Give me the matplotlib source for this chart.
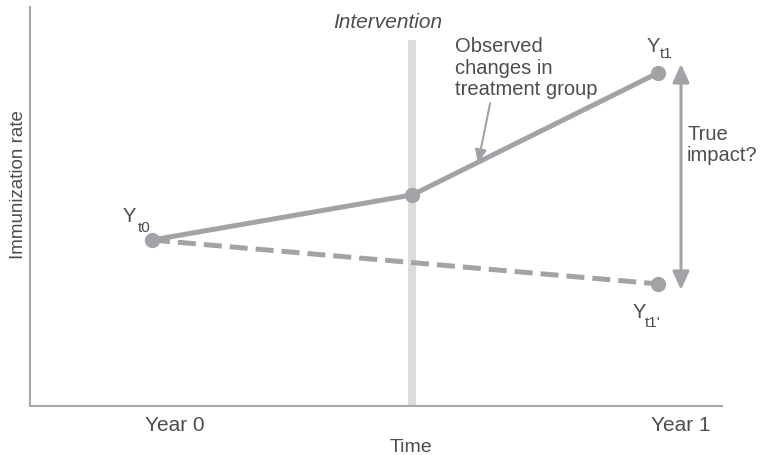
import matplotlib
matplotlib.use("Agg")
import matplotlib.pyplot as plt
from matplotlib.transforms import ScaledTranslation

plt.rcParams['font.family'] = ['Liberation Sans', 'DejaVu Sans']

# ---- data ----
x_tick_labels = ["Year 0", "Year 1"]
x_ticks = [0, 1]
treat_x = [0, 0.514, 1]
treat_y = [0.416, 0.529, 0.835]
counter_x = [0, 1]
counter_y = [0.416, 0.306]
intervention_x = 0.514
intervention_top = 0.917
impact_x = 1.045
impact_top = 0.857
impact_bottom = 0.291

LINE = '#a3a3a7'
TEXT = '#4d4d4d'
BAND = '#dcdcdc'
SPINE = '#a8a8a8'
FS = 14.5

fig = plt.figure(figsize=(7.64, 4.55), dpi=100)
ax = fig.add_axes([30/764, 49/455, (722-30)/764, 399/455])
ax.set_xlim(-0.241, 1.126)
ax.set_ylim(0, 1)

for s in ['top', 'right']:
    ax.spines[s].set_visible(False)
for s in ['left', 'bottom']:
    ax.spines[s].set_color(SPINE)
    ax.spines[s].set_linewidth(1.5)

# intervention band
ax.plot([intervention_x, intervention_x], [0, intervention_top], color=BAND,
        lw=5.8, solid_capstyle='butt', zorder=1)
ax.text(0.466, 0.947, "Intervention", style='italic',
        fontsize=15, color=TEXT, ha='center', va='baseline')

# lines
ax.plot(counter_x, counter_y, color=LINE, lw=3.6, dashes=(3.6, 1.6),
        zorder=2)
ax.plot(treat_x, treat_y, color=LINE, lw=3.6, zorder=3)
ax.plot([treat_x[0], treat_x[1], treat_x[2], counter_x[1]],
        [treat_y[0], treat_y[1], treat_y[2], counter_y[1]],
        'o', color=LINE, ms=10, zorder=4)


def ylabel_at(xy, main_off, sub, sub_off):
    ax.annotate("Y", xy=xy, xytext=main_off, textcoords='offset pixels',
                ha='left', va='baseline', fontsize=14.5, color=TEXT)
    ax.annotate(sub, xy=xy, xytext=sub_off, textcoords='offset pixels',
                ha='left', va='baseline', fontsize=11, color=TEXT)


ylabel_at((treat_x[0], treat_y[0]), (-29, 18), "t0", (-14, 8))
ylabel_at((treat_x[2], treat_y[2]), (-12, 21), "t1", (2, 15))
ylabel_at((counter_x[1], counter_y[1]), (-26, -34), "t1'", (-13, -43))

# true impact arrow
ax.annotate('', xy=(impact_x, impact_top), xytext=(impact_x, impact_bottom),
            arrowprops=dict(arrowstyle='<|-|>,head_length=1.1,head_width=0.5',
                            mutation_scale=10, color=LINE, lw=2.2,
                            shrinkA=0, shrinkB=0))
ax.text(impact_x + 0.012, 0.705, "True\nimpact?", fontsize=FS, color=TEXT,
        ha='left', va='top', linespacing=1.15)

# observed changes annotation
ax.text(0.599, 0.925, "Observed\nchanges in\ntreatment group", fontsize=FS,
        color=TEXT, ha='left', va='top', linespacing=1.18)
ax.annotate('', xy=(0.644, 0.609), xytext=(0.668, 0.759),
            arrowprops=dict(arrowstyle='-|>,head_length=0.8,head_width=0.35',
                            mutation_scale=10, color=LINE, lw=1.5,
                            shrinkA=0, shrinkB=0))

# axes labels
ax.set_xticks(x_ticks)
ax.set_xticklabels(x_tick_labels, fontsize=15, color=TEXT)
ax.tick_params(axis='x', length=0, pad=7)
off = ScaledTranslation(23/100, 0, fig.dpi_scale_trans)
for lab in ax.get_xticklabels():
    lab.set_transform(lab.get_transform() + off)
ax.set_yticks([])
ax.set_xlabel("Time", fontsize=14, color=TEXT)
ax.xaxis.set_label_coords(0.551, -0.083)
ax.set_ylabel("Immunization rate", fontsize=13.5, color=TEXT)
ax.yaxis.set_label_coords(-0.004, 0.554)

fig.savefig("out.png", dpi=100)
